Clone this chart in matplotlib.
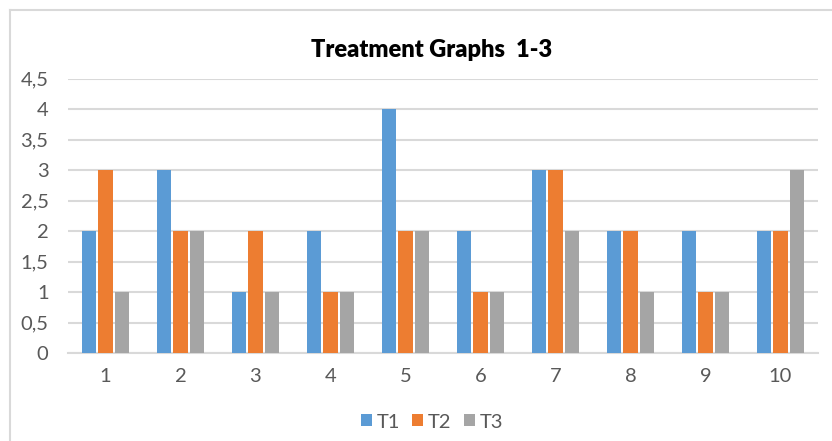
import matplotlib.pyplot as plt
import numpy as np
from matplotlib.lines import Line2D
from matplotlib.ticker import FuncFormatter

categories = ["1", "2", "3", "4", "5", "6", "7", "8", "9", "10"]
t1 = [2, 3, 1, 2, 4, 2, 3, 2, 2, 2]
t2 = [3, 2, 2, 1, 2, 1, 3, 2, 1, 2]
t3 = [1, 2, 1, 1, 2, 1, 2, 1, 1, 3]
series = {"T1": t1, "T2": t2, "T3": t3}
colors = ["#5B9BD5", "#ED7D31", "#A5A5A5"]

plt.rcParams["font.family"] = ["Lato", "DejaVu Sans"]

fig = plt.figure(figsize=(8.32, 4.41), dpi=100)
ax = fig.add_axes([68 / 832, 1 - 353 / 441, 750 / 832, 274.5 / 441])

x = np.arange(len(categories))
width = 0.187
step = 0.22
for i, (name, vals) in enumerate(series.items()):
    ax.bar(x + (i - 1) * step, vals, width, color=colors[i], label=name,
           zorder=3)

ax.set_xlim(-0.5, len(categories) - 0.5)
ax.set_ylim(0, 4.5)
ax.set_yticks(np.arange(0, 4.51, 0.5))
ax.yaxis.set_major_formatter(
    FuncFormatter(lambda v, p: ("%g" % v).replace(".", ",")))
ax.set_xticks(x)
ax.set_xticklabels(categories)
ax.grid(axis="y", color="#D9D9D9", linewidth=1.5, zorder=0)
for s in ["top", "right", "left"]:
    ax.spines[s].set_visible(False)
ax.spines["bottom"].set_color("#D9D9D9")
ax.spines["bottom"].set_linewidth(1.5)
ax.tick_params(axis="both", length=0, labelsize=14.5, colors="#595959")
ax.tick_params(axis="x", pad=11)
ax.tick_params(axis="y", pad=14)

fig.text(432 / 832, 1 - 50 / 441, "Treatment Graphs  1-3", ha="center",
         va="center", fontsize=17, fontweight="heavy", color="black")

# chart frame (only left and top edges are visible in the reference)
fig.add_artist(Line2D([10 / 832, 10 / 832], [0, 1 - 10 / 441],
                      color="#D9D9D9", linewidth=1.5))
fig.add_artist(Line2D([10 / 832, 1], [1 - 10 / 441, 1 - 10 / 441],
                      color="#D9D9D9", linewidth=1.5))

leg = fig.legend(loc="center", bbox_to_anchor=(432 / 832, 1 - 422 / 441),
                 ncol=3, frameon=False, fontsize=14.5, handlelength=0.55,
                 handleheight=0.55, handletextpad=0.25, columnspacing=0.6)
for t in leg.get_texts():
    t.set_color("#595959")

fig.savefig("out.png", dpi=100)
